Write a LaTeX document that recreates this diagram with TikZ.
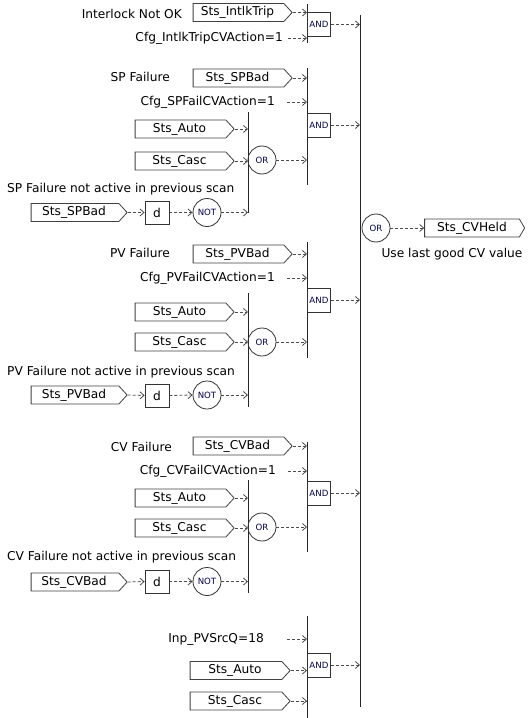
\documentclass[tikz,border=0pt]{standalone}
\usepackage{fontspec}
\setmainfont{DejaVu Sans}
\usetikzlibrary{shapes.symbols,arrows.meta}
\begin{document}
\begin{tikzpicture}[x=1bp,y=-1bp,
  every node/.style={font=\fontsize{12.2bp}{14bp}\selectfont},
  tagbox/.style={draw=black!75,shape=signal,signal to=east,signal pointer angle=95,
    minimum height=18bp,inner sep=0pt,line width=0.8bp},
  gatebox/.style={draw=black!80,minimum width=23bp,minimum height=24bp,inner sep=0pt,
    font=\fontsize{8.6bp}{10bp}\selectfont,text=blue!30!black,line width=0.8bp},
  gatecirc/.style={draw=black!80,circle,minimum size=28bp,inner sep=0pt,
    font=\fontsize{8.6bp}{10bp}\selectfont,text=blue!30!black,line width=0.8bp},
  dbox/.style={draw=black!80,minimum width=24bp,minimum height=23bp,inner sep=0pt,line width=0.8bp},
  lbl/.style={inner sep=0pt},
  bar/.style={draw=black!85,line width=0.9bp},
  sig/.style={draw=black!70,dashed,dash pattern=on 3bp off 2bp,line width=0.8bp,
    -{Straight Barb[length=4bp,width=7bp,line width=0.8bp]}}
]
\useasboundingbox (0,0) rectangle (529,718);

% bar coordinates
\coordinate (B) at (360,0);
\coordinate (A) at (307,0);
\coordinate (O) at (248,0);

% main bar
\draw[bar] (360,15) -- (360,707);
\node[gatecirc] (orMain) at (376,228) {OR};
\node[tagbox,minimum width=100bp,signal pointer angle=120] (held) at (472,228) {Sts\_CVHeld};
\node[lbl] (heldtxt) at (452,254) {Use last good CV value};
\draw[sig] (orMain.east) -- (held.west);

% ---------- Block 1 ----------
\node[lbl,anchor=east] (t1) at (182,14) {Interlock Not OK};
\node[tagbox,minimum width=99bp] (intlk) at (238.5,12.5) {\hspace*{-2bp}Sts\_IntlkTrip};
\node[lbl,anchor=east] (cfg1) at (283,38) {Cfg\_IntlkTripCVAction=1};
\coordinate (cfg1e) at (288,38);
\draw[bar] (307,4) -- (307,43);
\node[gatebox,anchor=west] (and1) at (307,24.5) {AND};
\draw[sig] (intlk.east) -- (intlk.east -| A);
\draw[sig] (cfg1e) -- (cfg1e -| A);
\draw[sig] (and1.east) -- (and1.east -| B);

% ---------- Block 2 ----------
\node[lbl,anchor=east] (t2) at (170,77) {SP Failure};
\node[tagbox,minimum width=99bp] (spbad) at (238.5,78) {\hspace*{-2bp}Sts\_SPBad};
\node[lbl,anchor=east] (cfg2) at (275,102) {Cfg\_SPFailCVAction=1};
\coordinate (cfg2e) at (287,102);
\draw[bar] (307,68) -- (307,185);
\node[gatebox,anchor=west] (and2) at (307,125) {AND};
\node[tagbox,minimum width=99bp] (auto2) at (180.5,129) {\hspace*{-2bp}Sts\_Auto};
\node[tagbox,minimum width=99bp] (casc2) at (180.5,161) {\hspace*{-2bp}Sts\_Casc};
\draw[bar] (248,112) -- (248,213);
\node[gatecirc] (or2) at (262,160) {OR};
\node[lbl,anchor=west] (t2b) at (7,189) {SP Failure not active in previous scan};
\node[tagbox,minimum width=96bp] (spbad2) at (75,212.5) {\hspace*{-2bp}Sts\_SPBad};
\node[dbox] (d2) at (157,212.5) {d};
\node[gatecirc] (not2) at (207,212.5) {NOT};
\draw[sig] (spbad.east) -- (spbad.east -| A);
\draw[sig] (cfg2e) -- (cfg2e -| A);
\draw[sig] (and2.east) -- (and2.east -| B);
\draw[sig] (auto2.east) -- (auto2.east -| O);
\draw[sig] (casc2.east) -- (casc2.east -| O);
\draw[sig] (or2.east) -- (or2.east -| A);
\draw[sig] (spbad2.east) -- (d2.west);
\draw[sig] (d2.east) -- (not2.west);
\draw[sig] (not2.east) -- (not2.east -| O);

% ---------- Block 3 ----------
\node[lbl,anchor=east] (t3) at (170,253) {PV Failure};
\node[tagbox,minimum width=99bp] (pvbad) at (238.5,254) {\hspace*{-2bp}Sts\_PVBad};
\node[lbl,anchor=east] (cfg3) at (275,278) {Cfg\_PVFailCVAction=1};
\coordinate (cfg3e) at (287,278);
\draw[bar] (307,242) -- (307,358);
\node[gatebox,anchor=west] (and3) at (307,300) {AND};
\node[tagbox,minimum width=99bp] (auto3) at (180.5,312) {\hspace*{-2bp}Sts\_Auto};
\node[tagbox,minimum width=99bp] (casc3) at (180.5,342) {\hspace*{-2bp}Sts\_Casc};
\draw[bar] (248,293) -- (248,407);
\node[gatecirc] (or3) at (262,342) {OR};
\node[lbl,anchor=west] (t3b) at (7,372) {PV Failure not active in previous scan};
\node[tagbox,minimum width=96bp] (pvbad2) at (75,395) {\hspace*{-2bp}Sts\_PVBad};
\node[dbox] (d3) at (157,395.5) {d};
\node[gatecirc] (not3) at (207,395) {NOT};
\draw[sig] (pvbad.east) -- (pvbad.east -| A);
\draw[sig] (cfg3e) -- (cfg3e -| A);
\draw[sig] (and3.east) -- (and3.east -| B);
\draw[sig] (auto3.east) -- (auto3.east -| O);
\draw[sig] (casc3.east) -- (casc3.east -| O);
\draw[sig] (or3.east) -- (or3.east -| A);
\draw[sig] (pvbad2.east) -- (d3.west);
\draw[sig] (d3.east) -- (not3.west);
\draw[sig] (not3.east) -- (not3.east -| O);

% ---------- Block 4 ----------
\node[lbl,anchor=east] (t4) at (172,447) {CV Failure};
\node[tagbox,minimum width=99bp] (cvbad) at (238.5,446) {\hspace*{-2bp}Sts\_CVBad};
\node[lbl,anchor=east] (cfg4) at (276,471) {Cfg\_CVFailCVAction=1};
\coordinate (cfg4e) at (288,471);
\draw[bar] (307,442) -- (307,552);
\node[gatebox,anchor=west] (and4) at (307,493) {AND};
\node[tagbox,minimum width=99bp] (auto4) at (180.5,498) {\hspace*{-2bp}Sts\_Auto};
\node[tagbox,minimum width=99bp] (casc4) at (180.5,528) {\hspace*{-2bp}Sts\_Casc};
\draw[bar] (248,480) -- (248,593);
\node[gatecirc] (or4) at (262,527) {OR};
\node[lbl,anchor=west] (t4b) at (7,557) {CV Failure not active in previous scan};
\node[tagbox,minimum width=96bp] (cvbad2) at (75,582) {\hspace*{-2bp}Sts\_CVBad};
\node[dbox] (d4) at (157,581.5) {d};
\node[gatecirc] (not4) at (207,581.5) {NOT};
\draw[sig] (cvbad.east) -- (cvbad.east -| A);
\draw[sig] (cfg4e) -- (cfg4e -| A);
\draw[sig] (and4.east) -- (and4.east -| B);
\draw[sig] (auto4.east) -- (auto4.east -| O);
\draw[sig] (casc4.east) -- (casc4.east -| O);
\draw[sig] (or4.east) -- (or4.east -| A);
\draw[sig] (cvbad2.east) -- (d4.west);
\draw[sig] (d4.east) -- (not4.west);
\draw[sig] (not4.east) -- (not4.east -| O);

% ---------- Block 5 ----------
\node[lbl,anchor=east] (inp) at (264,639) {Inp\_PVSrcQ=18};
\coordinate (inpe) at (287,639);
\draw[bar] (307,616) -- (307,718);
\node[gatebox,anchor=west] (and5) at (307,665) {AND};
\node[tagbox,minimum width=100bp] (auto5) at (236,670.5) {\hspace*{-2bp}Sts\_Auto};
\node[tagbox,minimum width=100bp] (casc5) at (236,701) {\hspace*{-2bp}Sts\_Casc};
\draw[sig] (inpe) -- (inpe -| A);
\draw[sig] (auto5.east) -- (auto5.east -| A);
\draw[sig] (casc5.east) -- (casc5.east -| A);
\draw[sig] (and5.east) -- (and5.east -| B);
\end{tikzpicture}
\end{document}
